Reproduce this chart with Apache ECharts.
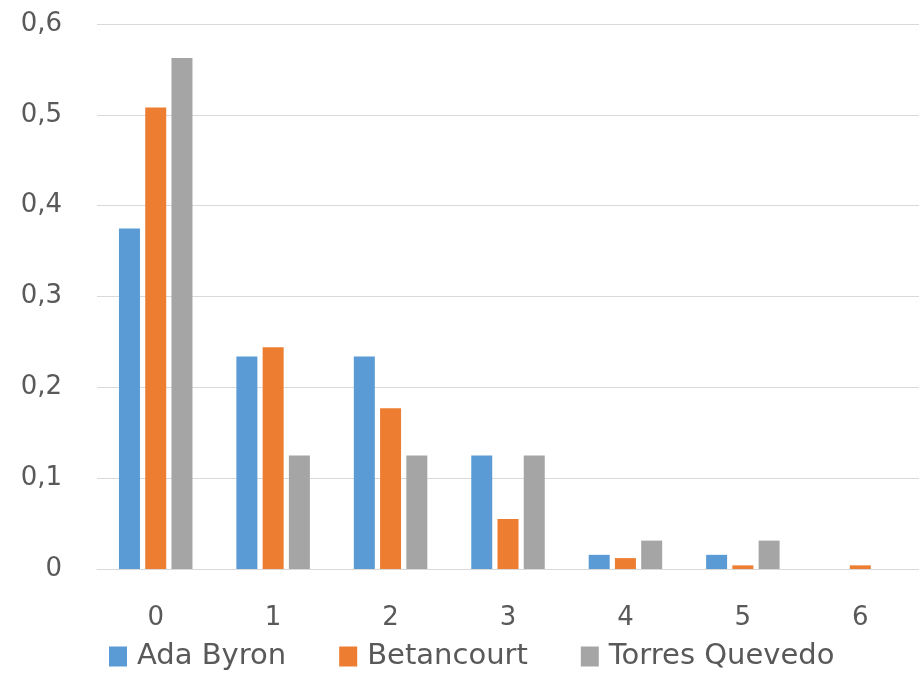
<!DOCTYPE html>
<html>
<head>
<meta charset="utf-8">
<script src="https://cdn.jsdelivr.net/npm/echarts@6/dist/echarts.min.js"></script>
<style>html,body{margin:0;padding:0;background:#fff;}#c{width:919px;height:673px;}</style>
</head>
<body>
<div id="c"></div>
<script>
const categories = ['0', '1', '2', '3', '4', '5', '6'];
const adaByron = [0.375, 0.234, 0.234, 0.125, 0.0156, 0.0156, 0];
const betancourt = [0.508, 0.244, 0.177, 0.055, 0.012, 0.004, 0.004];
const torresQuevedo = [0.5625, 0.125, 0.125, 0.125, 0.03125, 0.03125, 0];
const seriesNames = ['Ada Byron', 'Betancourt', 'Torres Quevedo'];
const colors = ['#5b9bd5', '#ed7d31', '#a5a5a5'];

const font = '"DejaVu Sans", "Open Sans", sans-serif';
const chart = echarts.init(document.getElementById('c'));
const data = [adaByron, betancourt, torresQuevedo];
chart.setOption({
  animation: false,
  color: colors,
  grid: { left: 97, right: 0, top: 24, bottom: 104, containLabel: false },
  legend: {
    top: 637, left: 104,
    itemWidth: 18, itemHeight: 20, itemGap: 53,
    icon: 'rect',
    textStyle: { fontFamily: font, fontSize: 29, color: '#595959', padding: [0, 0, 0, 5] },
    data: seriesNames
  },
  xAxis: {
    type: 'category', data: categories,
    axisLine: { lineStyle: { color: '#d9d9d9', width: 1 } },
    axisTick: { show: false },
    axisLabel: { fontFamily: font, fontSize: 26, color: '#595959', margin: 36 }
  },
  yAxis: {
    type: 'value', min: 0, max: 0.6, interval: 0.1,
    axisLine: { show: false }, axisTick: { show: false },
    splitLine: { lineStyle: { color: '#d9d9d9', width: 1 } },
    axisLabel: { fontFamily: font, fontSize: 26, color: '#595959', margin: 35,
      formatter: v => v === 0 ? '0' : v.toFixed(1).replace('.', ',') }
  },
  series: seriesNames.map((n, i) => ({
    name: n, type: 'bar', data: data[i], barWidth: 21, barGap: '25%'
  }))
});
</script>
</body>
</html>
